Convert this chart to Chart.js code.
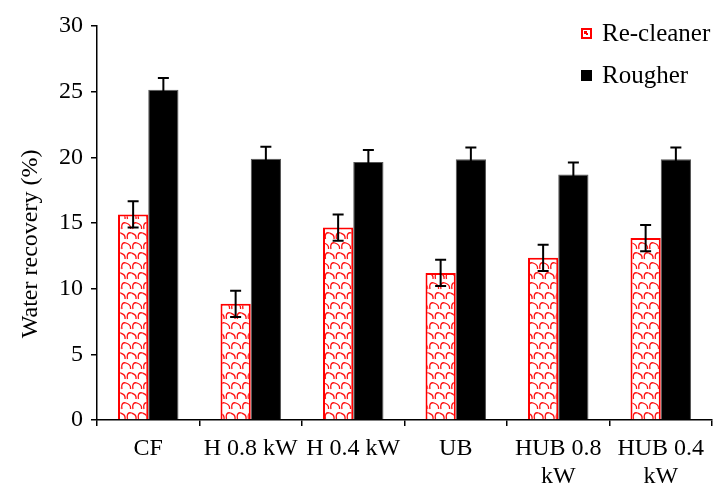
<!DOCTYPE html>
<html>
<head>
<meta charset="utf-8">
<script src="https://cdn.jsdelivr.net/npm/chart.js@4/dist/chart.umd.min.js"></script>
<style>
  html, body { margin: 0; padding: 0; background: #fff; }
  #wrap { position: relative; width: 718px; height: 484px; }
  #legend { position: absolute; left: 581px; top: 12px; font-family: "Liberation Serif", "Times New Roman", serif; font-size: 25px; color: #000; }
  .item { display: flex; align-items: center; height: 42px; }
  .item canvas { margin-right: 10px; }
</style>
</head>
<body>
<div id="wrap">
  <canvas id="chart" width="718" height="484"></canvas>
  <div id="legend">
    <div class="item"><canvas id="swA" width="11" height="11"></canvas><span>Re-cleaner</span></div>
    <div class="item"><canvas id="swB" width="11" height="11"></canvas><span>Rougher</span></div>
  </div>
</div>
<script>
// Treatments on the x axis
const categories = ['CF', 'H 0.8 kW', 'H 0.4 kW', 'UB', ['HUB 0.8', 'kW'], ['HUB 0.4', 'kW']];
// Water recovery (%) and standard deviations
const recleaner = [15.65, 8.85, 14.65, 11.2, 12.35, 13.85];
const recleanerErr = [1.0, 1.0, 1.0, 1.0, 1.0, 1.0];
const rougher = [25.15, 19.9, 19.65, 19.85, 18.7, 19.85];
const rougherErr = [0.9, 0.9, 0.9, 0.9, 0.9, 0.9];
const yTicks = [0, 5, 10, 15, 20, 25, 30];
const yTitle = 'Water recovery (%)';

const FONT = '"Liberation Serif", "Times New Roman", serif';

// Red shingle hatch used for the re-cleaner bars
function makeShingle() {
  const c = document.createElement('canvas');
  c.width = 11; c.height = 20;
  const g = c.getContext('2d');
  g.fillStyle = '#fff';
  g.fillRect(0, 0, 11, 20);
  g.strokeStyle = '#ff1010';
  g.lineWidth = 1.3;
  // upper row of tiles
  g.beginPath();
  g.moveTo(1, 9);
  g.bezierCurveTo(0, 4, 2, 2, 5, 3);
  g.bezierCurveTo(8, 4, 10, 6, 9.5, 9);
  g.stroke();
  // lower row, shifted half a tile
  g.beginPath();
  g.moveTo(6.5, 19);
  g.bezierCurveTo(5.5, 14, 7.5, 12, 10.5, 13);
  g.lineTo(11, 13.2);
  g.stroke();
  g.beginPath();
  g.moveTo(0, 13.2);
  g.bezierCurveTo(2.5, 14, 4.5, 16, 4, 19);
  g.stroke();
  return g.createPattern(c, 'repeat');
}

const ctx = document.getElementById('chart').getContext('2d');
const shingle = makeShingle();

// Legend swatches
(function () {
  const a = document.getElementById('swA').getContext('2d');
  a.fillStyle = '#fff'; a.fillRect(0, 0, 11, 11);
  a.strokeStyle = '#ff0000'; a.lineWidth = 2; a.strokeRect(1, 1, 9, 9);
  a.fillStyle = '#ff0000'; a.fillRect(3, 3, 3, 3); a.fillRect(5, 5, 2, 2);
  const b = document.getElementById('swB').getContext('2d');
  b.fillStyle = '#000'; b.fillRect(0, 0, 11, 11);
})();

const errorBars = {
  id: 'errorBars',
  afterDatasetsDraw(chart) {
    const c = chart.ctx;
    const y = chart.scales.y;
    const errs = [recleanerErr, rougherErr];
    c.save();
    c.strokeStyle = '#000';
    c.lineWidth = 2;
    chart.data.datasets.forEach((ds, di) => {
      const meta = chart.getDatasetMeta(di);
      meta.data.forEach((bar, i) => {
        const v = ds.data[i], e = errs[di][i];
        const x = bar.x;
        const yt = y.getPixelForValue(v + e);
        const yb = y.getPixelForValue(v - e);
        c.beginPath();
        c.moveTo(x, yt); c.lineTo(x, yb);
        c.moveTo(x - 5.5, yt); c.lineTo(x + 5.5, yt);
        c.moveTo(x - 5.5, yb); c.lineTo(x + 5.5, yb);
        c.stroke();
      });
    });
    c.restore();
  }
};

// Vertical axis title, set a little below the middle of the axis
const axisTitle = {
  id: 'axisTitle',
  afterDraw(chart) {
    const c = chart.ctx;
    const a = chart.chartArea;
    c.save();
    c.translate(31, a.top + (a.bottom - a.top) * 0.553);
    c.rotate(-Math.PI / 2);
    c.font = '24px ' + FONT;
    c.fillStyle = '#000';
    c.textAlign = 'center';
    c.textBaseline = 'middle';
    c.fillText(yTitle, 0, 0);
    c.restore();
  }
};

new Chart(ctx, {
  type: 'bar',
  data: {
    labels: categories,
    datasets: [
      { label: 'Re-cleaner', data: recleaner, backgroundColor: shingle, borderColor: '#ff0000', borderWidth: 2 },
      { label: 'Rougher', data: rougher, backgroundColor: '#000', borderColor: '#555', borderWidth: 1 }
    ]
  },
  options: {
    responsive: false,
    animation: false,
    layout: { padding: { top: 26, right: 6, left: 0, bottom: 0 } },
    plugins: { legend: { display: false }, tooltip: { enabled: false } },
    datasets: { bar: { categoryPercentage: 0.59, barPercentage: 1.0 } },
    scales: {
      x: {
        afterFit(s) { s.height = 64; },
        grid: { offset: true, drawOnChartArea: false, drawTicks: true, tickLength: 6, color: '#000', lineWidth: 1.5 },
        border: { color: '#000', width: 1.5 },
        ticks: { color: '#000', font: { family: FONT, size: 24, lineHeight: 1.2 }, padding: 8, maxRotation: 0, autoSkip: false }
      },
      y: {
        min: 0, max: 30,
        afterFit(s) { s.width = 97; },
        afterBuildTicks(s) { s.ticks = yTicks.map(v => ({ value: v })); },
        grid: { drawOnChartArea: false, drawTicks: true, tickLength: 6, color: '#000', lineWidth: 1.5 },
        border: { color: '#000', width: 1.5 },
        ticks: { color: '#000', font: { family: FONT, size: 24 }, padding: 8 },
        title: { display: false }
      }
    }
  },
  plugins: [errorBars, axisTitle]
});
</script>
</body>
</html>
